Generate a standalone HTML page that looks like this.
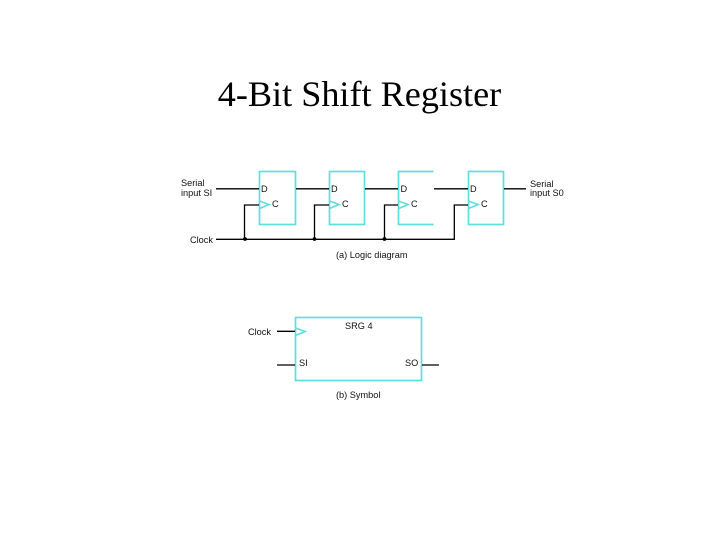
<!DOCTYPE html>
<html>
<head>
<meta charset="utf-8">
<style>
html,body{margin:0;padding:0;background:#fff;width:720px;height:540px;overflow:hidden}
svg{display:block}
.t{font-family:"Liberation Sans",sans-serif;font-size:9.2px;fill:#111}
.k{stroke:#000;stroke-width:1.3;fill:none}
.c{stroke:#5fdede;stroke-width:1.7;fill:none}
.b{filter:blur(.3px)}
</style>
</head>
<body>
<svg width="720" height="540" viewBox="0 0 720 540" xmlns="http://www.w3.org/2000/svg">
<text x="359.500" y="106" text-anchor="middle" font-family="'Liberation Serif',serif" font-size="36.200" fill="#000">4-Bit Shift Register</text>

<g class="b">
<rect class="c" x="259.500" y="171.500" width="36" height="53"/>
<rect class="c" x="329.500" y="171.500" width="35" height="53"/>
<path class="c" d="M433.500 171.500H398.500V224.500H433.500"/>
<rect class="c" x="468.500" y="171.500" width="35" height="53"/>

<path class="c" d="M259.500 201l9.500 3.500-9.500 4"/>
<path class="c" d="M329.500 201l9.500 3.500-9.500 4"/>
<path class="c" d="M398.500 201l9.500 3.500-9.500 4"/>
<path class="c" d="M468.500 201l9.500 3.500-9.500 4"/>

<path class="k" d="M216 188.800H259M296 188.800H329M365 188.800H398M434 188.800H468M504 188.800H526"/>
<path class="k" d="M216 239.300H454.300V205H468"/>
<path class="k" d="M244.500 239.300V205H259M314.500 239.300V205H329M384.500 239.300V205H398"/>
<circle cx="245" cy="239" r="1.900" fill="#000"/>
<circle cx="314.500" cy="239" r="1.900" fill="#000"/>
<circle cx="384.500" cy="239" r="1.900" fill="#000"/>

<text class="t" x="181" y="186">Serial</text>
<text class="t" x="181" y="196">input SI</text>
<text class="t" x="190" y="243">Clock</text>
<text class="t" x="530" y="187">Serial</text>
<text class="t" x="530" y="196">input S0</text>

<text class="t" x="261" y="192">D</text>
<text class="t" x="272" y="207">C</text>
<text class="t" x="331" y="192">D</text>
<text class="t" x="342" y="207">C</text>
<text class="t" x="400.500" y="192">D</text>
<text class="t" x="411" y="207">C</text>
<text class="t" x="470" y="192">D</text>
<text class="t" x="481" y="207">C</text>

<text class="t" x="336" y="258">(a) Logic diagram</text>

<rect class="c" x="295.500" y="317.500" width="126" height="63"/>
<path class="c" d="M295.500 328l9.500 3.500-9.500 4"/>
<path class="k" d="M277 331.300H295M277 365H295M422 365H439"/>
<text class="t" x="248" y="335">Clock</text>
<text class="t" x="345" y="329">SRG 4</text>
<text class="t" x="299" y="366">SI</text>
<text class="t" x="405" y="366">SO</text>
<text class="t" x="336" y="398">(b) Symbol</text>
</g>
</svg>
</body>
</html>
